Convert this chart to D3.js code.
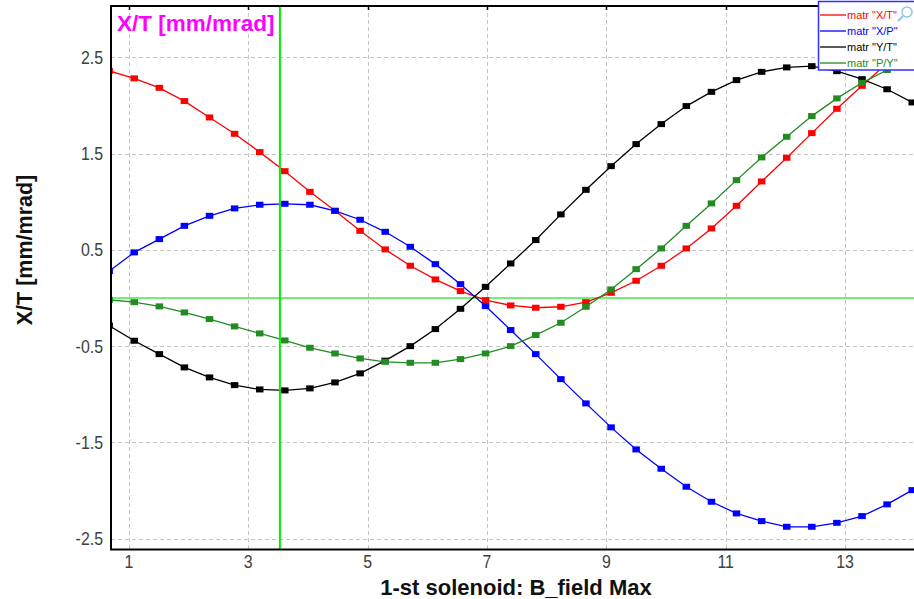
<!DOCTYPE html>
<html><head><meta charset="utf-8">
<script src="https://cdn.jsdelivr.net/npm/d3@7"></script>
<style>html,body{margin:0;padding:0;background:#fff;overflow:hidden}</style>
</head><body>
<svg id="chart" width="914" height="599"></svg>
<script>
// ---- data ----
const xValues = [0.669,1.089,1.510,1.930,2.351,2.771,3.192,3.612,4.033,4.453,4.874,5.294,5.715,6.135,6.556,6.976,7.397,7.817,8.238,8.658,9.079,9.499,9.920,10.340,10.761,11.181,11.602,12.022,12.443,12.863,13.284,13.704,14.125];
const seriesNames = ['matr "X/T"','matr "X/P"','matr "Y/T"','matr "P/Y"'];
const seriesColors = ["#ff0000","#0000ff","#000000","#228b22"];
const xtValues = [2.36,2.283,2.185,2.047,1.877,1.707,1.517,1.319,1.104,0.907,0.699,0.506,0.336,0.194,0.073,-0.021,-0.076,-0.100,-0.090,-0.042,0.055,0.180,0.336,0.516,0.724,0.959,1.212,1.458,1.714,1.967,2.206,2.44,2.66];
const xpValues = [0.28,0.475,0.613,0.751,0.855,0.932,0.970,0.980,0.970,0.907,0.814,0.689,0.533,0.353,0.145,-0.083,-0.332,-0.582,-0.842,-1.094,-1.343,-1.572,-1.773,-1.960,-2.116,-2.237,-2.317,-2.376,-2.376,-2.335,-2.265,-2.143,-1.995];
const ytValues = [-0.285,-0.443,-0.582,-0.720,-0.824,-0.904,-0.949,-0.959,-0.938,-0.876,-0.782,-0.650,-0.499,-0.322,-0.111,0.117,0.360,0.603,0.870,1.125,1.371,1.600,1.808,1.995,2.143,2.265,2.351,2.397,2.410,2.358,2.275,2.170,2.033];
const pyValues = [-0.018,-0.042,-0.086,-0.149,-0.218,-0.294,-0.367,-0.440,-0.516,-0.575,-0.627,-0.662,-0.672,-0.672,-0.634,-0.575,-0.499,-0.384,-0.256,-0.090,0.090,0.301,0.516,0.751,0.984,1.226,1.462,1.676,1.891,2.075,2.237,2.37,2.50];
const xTicks = [1,3,5,7,9,11,13];
const yTicks = [2.5,1.5,0.5,-0.5,-1.5,-2.5];
const cursorX = 3.53;
const refY = 0;
const xDomain = [0.70, 14.155];
const yDomain = [-2.612, 3.035];

const allSeries = [xtValues, xpValues, ytValues, pyValues];

// ---- layout ----
const svg = d3.select("#chart");
const M = {left:111, right:914, top:6, bottom:549.5};
const x = d3.scaleLinear().domain(xDomain).range([M.left, M.right]);
const y = d3.scaleLinear().domain(yDomain).range([M.bottom, M.top]);

svg.append("defs").append("clipPath").attr("id","clip")
  .append("rect").attr("x",M.left).attr("y",M.top).attr("width",M.right-M.left).attr("height",M.bottom-M.top);

// grid
const grid = svg.append("g").attr("stroke","#c4c4c4").attr("stroke-width",1).attr("stroke-dasharray","4,3");
grid.selectAll("line.v").data(xTicks).join("line")
  .attr("x1",d=>Math.round(x(d))+0.5).attr("x2",d=>Math.round(x(d))+0.5)
  .attr("y1",M.top).attr("y2",M.bottom);
grid.selectAll("line.h").data(yTicks).join("line")
  .attr("y1",d=>Math.round(y(d))+0.5).attr("y2",d=>Math.round(y(d))+0.5)
  .attr("x1",M.left).attr("x2",M.right);

const plot = svg.append("g").attr("clip-path","url(#clip)");

// reference lines
plot.append("line").attr("x1",M.left).attr("x2",M.right)
  .attr("y1",y(refY)).attr("y2",y(refY)).attr("stroke","#70f070").attr("stroke-width",2);

// series
const line = d3.line().x((d,i)=>x(xValues[i])).y(d=>y(d));
allSeries.forEach((vals,si)=>{
  plot.append("path").datum(vals).attr("d",line)
    .attr("fill","none").attr("stroke",seriesColors[si]).attr("stroke-width",1.3);
  plot.selectAll(null).data(vals).join("rect")
    .attr("x",(d,i)=>x(xValues[i])-3.75).attr("y",d=>y(d)-3)
    .attr("width",7.5).attr("height",6).attr("fill",seriesColors[si]);
});

plot.append("line").attr("x1",x(cursorX)).attr("x2",x(cursorX))
  .attr("y1",M.top).attr("y2",M.bottom).attr("stroke","#00ee00").attr("stroke-width",2);

// frame
svg.append("path")
  .attr("d",`M${M.right+2},${M.top} H${M.left} V${M.bottom} H${M.right+2}`)
  .attr("fill","none").attr("stroke","#000").attr("stroke-width",2);

// small ticks on top border
svg.selectAll("line.tt").data(xTicks).join("line")
  .attr("x1",d=>Math.round(x(d))+0.5).attr("x2",d=>Math.round(x(d))+0.5)
  .attr("y1",M.top).attr("y2",M.top+4).attr("stroke","#000").attr("stroke-width",1.5);

// axes labels
const textFont = "'Liberation Sans', Arial, sans-serif";
svg.selectAll("text.yt").data(yTicks).join("text")
  .attr("transform",d=>`translate(103,${y(d)+6.5}) scale(0.86,1)`).attr("text-anchor","end")
  .attr("font-family",textFont).attr("font-size",18.5).attr("fill","#404040")
  .text(d=>d.toFixed(1));
svg.selectAll("text.xt").data(xTicks).join("text")
  .attr("transform",d=>`translate(${x(d)},568) scale(0.86,1)`).attr("text-anchor","middle")
  .attr("font-family",textFont).attr("font-size",18.5).attr("fill","#404040")
  .text(d=>d);

svg.append("text").attr("x",516).attr("y",595).attr("text-anchor","middle")
  .attr("font-family",textFont).attr("font-weight","bold").attr("font-size",22)
  .attr("fill","#111").text("1-st solenoid: B_field Max");

svg.append("text").attr("transform","translate(32,250) rotate(-90)").attr("text-anchor","middle")
  .attr("font-family",textFont).attr("font-weight","bold").attr("font-size",21.5)
  .attr("fill","#111").text("X/T [mm/mrad]");

svg.append("text").attr("x",117).attr("y",31)
  .attr("font-family",textFont).attr("font-weight","bold").attr("font-size",22.5)
  .attr("fill","#ff00ff").text("X/T [mm/mrad]");

// legend
const lg = svg.append("g");
lg.append("rect").attr("x",818.5).attr("y",1.5).attr("width",100).attr("height",68.5)
  .attr("fill","#fff").attr("stroke","#3030ff").attr("stroke-width",1.5);
seriesNames.forEach((name,i)=>{
  const yy = 15 + i*16;
  lg.append("line").attr("x1",820).attr("x2",846).attr("y1",yy).attr("y2",yy)
    .attr("stroke",seriesColors[i]).attr("stroke-width",1.3);
  lg.append("text").attr("x",847).attr("y",yy+4).attr("font-family",textFont)
    .attr("font-size",11).attr("fill",seriesColors[i]).text(name);
});
// magnifier icon
lg.append("circle").attr("cx",907).attr("cy",12).attr("r",5).attr("fill","none")
  .attr("stroke","#8cc8e8").attr("stroke-width",1.5);
lg.append("line").attr("x1",903).attr("y1",16).attr("x2",898).attr("y2",21)
  .attr("stroke","#8cc8e8").attr("stroke-width",2);
</script>
</body></html>
